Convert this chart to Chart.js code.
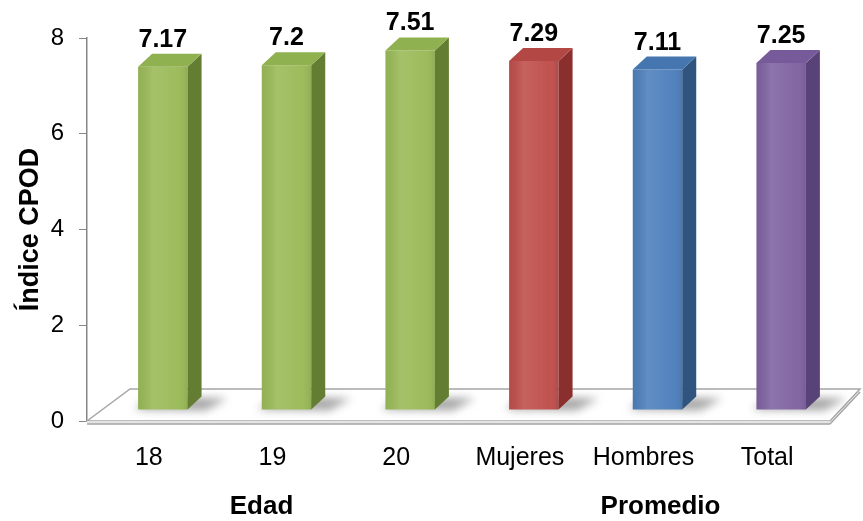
<!DOCTYPE html>
<html>
<head>
<meta charset="utf-8">
<script src="https://cdn.jsdelivr.net/npm/chart.js@4.4.1/dist/chart.umd.min.js"></script>
<style>
  html, body { margin: 0; padding: 0; background: #fff; }
  #wrap { width: 863px; height: 521px; }
</style>
</head>
<body>
<div id="wrap"><canvas id="cpodChart"></canvas></div>
<script>
// Categories and CPOD index values
const categories = ['18', '19', '20', 'Mujeres', 'Hombres', 'Total'];
const cpodValues = [7.17, 7.2, 7.51, 7.29, 7.11, 7.25];
const yTicks = [0, 2, 4, 6, 8];

// Groups shown under the category labels (first/last index of each)
const groupNames = ['Edad', 'Promedio'];
const groupStart = [0, 3];
const groupEnd = [2, 5];

// Bar colours: front, side, top
const frontColors = ['#9bbb59', '#9bbb59', '#9bbb59', '#c0504d', '#4f81bd', '#8064a2'];
const sideColors = ['#637d33', '#637d33', '#637d33', '#8a2f2d', '#2f5480', '#584277'];
const topColors = ['#8fb14f', '#8fb14f', '#8fb14f', '#b34744', '#4676b0', '#775a99'];

const FONT = '"Liberation Sans", Arial, sans-serif';

// depth of the bars behind the front plane
const depthX = 14;
const depthY = 13;
const backShiftX = 14;
const backShiftY = -11;

const bar3d = {
  id: 'bar3d',
  beforeDatasetsDraw(chart) {
    const { ctx, chartArea } = chart;
    const l = chartArea.left, r = chartArea.right, b = chartArea.bottom;

    // floor
    ctx.save();
    ctx.beginPath();
    ctx.moveTo(l, b);
    ctx.lineTo(l + 43, b - 32);
    ctx.lineTo(r + 31, b - 32);
    ctx.lineTo(r + 1, b);
    ctx.closePath();
    ctx.fillStyle = '#ffffff';
    ctx.fill();
    ctx.strokeStyle = '#a6a6a6';
    ctx.lineWidth = 1.5;
    ctx.stroke();
    // floor thickness
    ctx.fillStyle = '#e4e4e4';
    ctx.fillRect(l, b, r - l + 1, 3);
    ctx.beginPath();
    ctx.moveTo(l, b + 3);
    ctx.lineTo(r + 1, b + 3);
    ctx.moveTo(r + 1, b + 3);
    ctx.lineTo(r + 31, b - 29);
    ctx.stroke();
    ctx.restore();

    ctx.save();
    ctx.translate(backShiftX, backShiftY);

    // soft shadows on the floor
    const meta = chart.getDatasetMeta(0);
    meta.data.forEach((bar) => {
      const xr = bar.x + bar.width / 2;
      const xl = bar.x - bar.width / 2;
      ctx.save();
      ctx.filter = 'blur(4px)';
      ctx.fillStyle = 'rgba(60,60,60,0.45)';
      ctx.beginPath();
      ctx.moveTo(xl - 4, bar.base);
      ctx.lineTo(xl + depthX, bar.base - depthY);
      ctx.lineTo(xr + depthX + 26, bar.base - depthY + 2);
      ctx.lineTo(xr + 18, bar.base + 1);
      ctx.closePath();
      ctx.fill();
      ctx.restore();
    });
  },
  afterDatasetsDraw(chart) {
    const { ctx } = chart;
    const meta = chart.getDatasetMeta(0);
    meta.data.forEach((bar, i) => {
      const xl = bar.x - bar.width / 2;
      const xr = bar.x + bar.width / 2;
      const top = bar.y;
      const base = bar.base;

      // front shading
      const g = ctx.createLinearGradient(xl, 0, xr, 0);
      g.addColorStop(0, 'rgba(0,0,0,0.06)');
      g.addColorStop(0.3, 'rgba(255,255,255,0.10)');
      g.addColorStop(0.8, 'rgba(255,255,255,0.02)');
      g.addColorStop(1, 'rgba(0,0,0,0.08)');
      ctx.fillStyle = g;
      ctx.fillRect(xl, top, xr - xl, base - top);

      // side face
      ctx.beginPath();
      ctx.moveTo(xr, top);
      ctx.lineTo(xr + depthX, top - depthY);
      ctx.lineTo(xr + depthX, base - depthY);
      ctx.lineTo(xr, base);
      ctx.closePath();
      ctx.fillStyle = sideColors[i];
      ctx.fill();

      // top face
      ctx.beginPath();
      ctx.moveTo(xl, top);
      ctx.lineTo(xl + depthX, top - depthY);
      ctx.lineTo(xr + depthX, top - depthY);
      ctx.lineTo(xr, top);
      ctx.closePath();
      ctx.fillStyle = topColors[i];
      ctx.fill();

      // value label
      ctx.fillStyle = '#000';
      ctx.font = 'bold 25px ' + FONT;
      ctx.textAlign = 'center';
      ctx.textBaseline = 'alphabetic';
      ctx.fillText(String(cpodValues[i]), bar.x, top - 20);
    });
    ctx.restore();
  },
  afterDraw(chart) {
    const { ctx } = chart;
    const x = chart.scales.x;
    const groupNudge = [-11, 17];
    ctx.save();
    ctx.fillStyle = '#000';
    ctx.font = 'bold 26px ' + FONT;
    ctx.textAlign = 'center';
    ctx.textBaseline = 'middle';
    groupNames.forEach((name, g) => {
      const cx = (x.getPixelForValue(groupStart[g]) + x.getPixelForValue(groupEnd[g])) / 2;
      ctx.fillText(name, cx + groupNudge[g], 507);
    });
    ctx.restore();
  }
};

new Chart(document.getElementById('cpodChart'), {
  type: 'bar',
  data: {
    labels: categories,
    datasets: [{
      data: cpodValues,
      backgroundColor: frontColors,
      borderWidth: 0,
      barPercentage: 0.4,
      categoryPercentage: 1,
      clip: false
    }]
  },
  options: {
    responsive: true,
    maintainAspectRatio: false,
    animation: false,
    layout: { padding: { left: 12, right: 34, top: 38, bottom: 34 } },
    plugins: {
      legend: { display: false },
      tooltip: { enabled: false }
    },
    scales: {
      x: {
        grid: { display: false },
        border: { display: false },
        ticks: {
          color: '#000',
          font: { family: FONT, size: 25 },
          padding: 14,
          maxRotation: 0
        }
      },
      y: {
        min: 0,
        max: 8,
        afterBuildTicks(axis) {
          axis.ticks = yTicks.map(v => ({ value: v }));
        },
        afterFit(axis) {
          axis.width = 75;
        },
        grid: { drawOnChartArea: false, drawTicks: true, tickLength: 8, color: '#868686' },
        border: { display: true, color: '#868686', width: 1.5 },
        ticks: {
          color: '#000',
          font: { family: FONT, size: 24 },
          padding: 15
        },
        title: {
          display: true,
          text: 'Índice CPOD',
          color: '#000',
          font: { family: FONT, size: 27, weight: 'bold' },
          padding: { top: 2, bottom: 4 }
        }
      }
    }
  },
  plugins: [bar3d]
});
</script>
</body>
</html>
